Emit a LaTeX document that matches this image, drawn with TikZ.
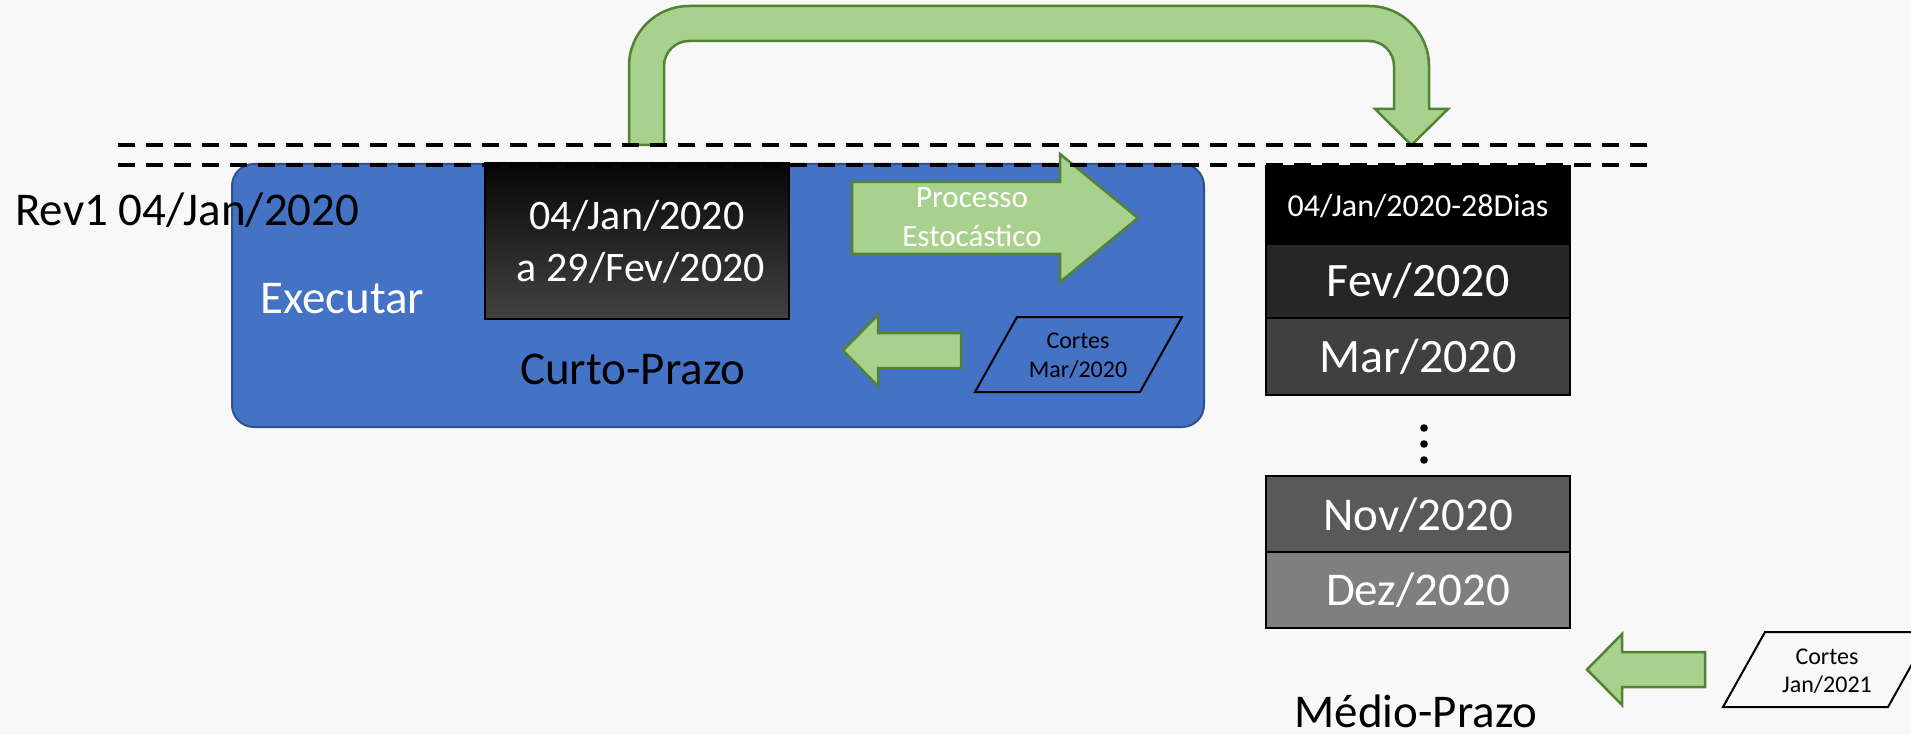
\documentclass[tikz,border=0pt]{standalone}
\usepackage{fontspec}
\setmainfont{Carlito}
\definecolor{bgc}{HTML}{F8F8F8}
\definecolor{gfill}{HTML}{A9D18E}
\definecolor{gline}{HTML}{548235}
\definecolor{bfill}{HTML}{4472C4}
\definecolor{bline}{HTML}{2F528F}
\definecolor{rowa}{HTML}{000000}
\definecolor{rowb}{HTML}{262626}
\definecolor{rowc}{HTML}{404040}
\definecolor{rowd}{HTML}{595959}
\definecolor{rowe}{HTML}{7F7F7F}
\definecolor{grtop}{HTML}{060606}
\definecolor{grbot}{HTML}{424242}
\newcommand{\myfs}[1]{\fontsize{#1}{#1}\selectfont}
\tikzset{
  garrow/.style={fill=gfill, draw=gline, line width=2.5pt, line join=miter},
  cutbox/.style={draw=black, line width=2pt, line join=miter},
  rowbox/.style={draw=black, line width=2.5pt, minimum width=304pt, inner sep=0pt},
  wtxt/.style={text=white, inner sep=0pt, anchor=base},
  btxt/.style={text=black, inner sep=0pt, anchor=base},
  dashline/.style={line width=4pt, dash pattern=on 17pt off 11pt},
}
\begin{document}
\begin{tikzpicture}[x=1pt,y=-1pt]
\useasboundingbox (0,0) rectangle (1911,735);
\clip (0,0) rectangle (1911,735);
\fill[bgc] (0,0) rectangle (1911,735);

% U-turn arrow on top
\path[garrow] (629,145) -- (629,66)
  .. controls (629,32.9) and (655.9,6) .. (689,6)
  -- (1369,6)
  .. controls (1402.1,6) and (1429,32.9) .. (1429,66)
  -- (1429,109) -- (1448,109) -- (1411.5,145) -- (1375,109) -- (1394,109) -- (1394,66)
  .. controls (1394,52.2) and (1382.8,41) .. (1369,41)
  -- (689,41)
  .. controls (675.2,41) and (664,52.2) .. (664,66)
  -- (664,145) -- cycle;

% Curto-Prazo block
\node[fill=bfill, draw=bline, line width=2pt, rounded corners=22pt, minimum width=972pt, minimum height=263pt, inner sep=0pt] (cp) at (718,295.5) {};
\node[draw=black, line width=2pt, top color=grtop, bottom color=grbot, minimum width=304pt, minimum height=155pt, inner sep=0pt] (dt) at (637,241) {};
\node[wtxt, font=\myfs{42}] (dta) at (637,230) {04/Jan/2020};
\node[wtxt, font=\myfs{42}] (dtb) at (641,282) {a 29/Fev/2020};
\node[btxt, font=\myfs{47}, anchor=base west] (rev) at (15,226) {Rev1 04/Jan/2020};
\node[wtxt, font=\myfs{47}, anchor=base west] (ex) at (260,313) {Executar};
\node[btxt, font=\myfs{47}, anchor=base west] (cpl) at (520,384) {Curto-Prazo};

% Processo Estocastico arrow
\path[garrow] (852,182) -- (1060,182) -- (1060,154) -- (1138,218) -- (1060,282) -- (1060,254) -- (852,254) -- cycle;
\node[wtxt, font=\myfs{31}] (pe1) at (972,208) {Processo};
\node[wtxt, font=\myfs{31}] (pe2) at (972,247) {Estocástico};

% Cortes Mar/2020
\path[garrow] (843,350.5) -- (878,315) -- (878,333) -- (961,333) -- (961,368) -- (878,368) -- (878,386) -- cycle;
\draw[cutbox] (975,392) -- (1017,317) -- (1182,317) -- (1140,392) -- cycle;
\node[btxt, font=\myfs{24}] (cm1) at (1078,348) {Cortes};
\node[btxt, font=\myfs{24}] (cm2) at (1078,377) {Mar/2020};

% Medio-Prazo stack
\node[rowbox, fill=rowa, minimum height=78pt] (ra) at (1418,205) {};
\node[rowbox, fill=rowb, minimum height=74pt] (rb) at (1418,281) {};
\node[rowbox, fill=rowc, minimum height=77pt] (rc) at (1418,356.5) {};
\node[rowbox, fill=rowd, minimum height=76pt] (rd) at (1418,514) {};
\node[rowbox, fill=rowe, minimum height=76pt] (re) at (1418,590) {};
\node[wtxt, font=\myfs{32}] (ta) at (1418,217) {04/Jan/2020-28Dias};
\node[wtxt, font=\myfs{48}] (tb) at (1418,297) {Fev/2020};
\node[wtxt, font=\myfs{48}] (tc) at (1418,372) {Mar/2020};
\node[wtxt, font=\myfs{47}] (td) at (1418,530) {Nov/2020};
\node[wtxt, font=\myfs{47}] (te) at (1418,605) {Dez/2020};
\fill (1424,428) circle (3.8pt) (1424,444) circle (3.8pt) (1424,460) circle (3.8pt);
\node[btxt, font=\myfs{47}] (mp) at (1416,727) {Médio-Prazo};

% Cortes Jan/2021
\path[garrow] (1587,669.5) -- (1622,634) -- (1622,652) -- (1705,652) -- (1705,687) -- (1622,687) -- (1622,705) -- cycle;
\draw[cutbox] (1723,707) -- (1765,632) -- (1930,632) -- (1888,707) -- cycle;
\node[btxt, font=\myfs{24}] (cj1) at (1827,664) {Cortes};
\node[btxt, font=\myfs{24}] (cj2) at (1827,692) {Jan/2021};

% dashed lines
\draw[dashline] (118,145) -- (1648,145);
\draw[dashline] (118,165) -- (1648,165);
\end{tikzpicture}
\end{document}
